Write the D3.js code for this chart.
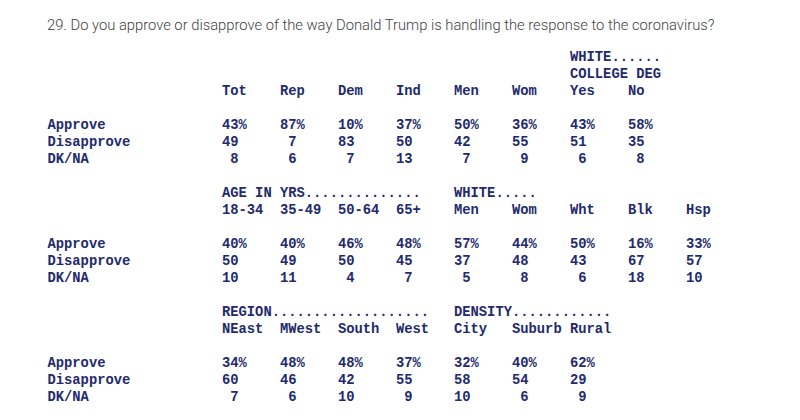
<!DOCTYPE html>
<html>
<head>
<meta charset="utf-8">
<script src="https://cdn.jsdelivr.net/npm/d3@7"></script>
<style>
  body { margin: 0; background: #fff; }
  .title { font-family: Roboto, "Liberation Sans", sans-serif; font-weight: 300; fill: #3f3f3f; }
  .mono { font-family: "Liberation Mono", "Courier New", monospace; font-weight: bold; fill: #232a6c; }
</style>
</head>
<body>
<svg id="chart"></svg>
<script>
// Question text
const question = "29. Do you approve or disapprove of the way Donald Trump is handling the response to the coronavirus?";
const responses = ["Approve", "Disapprove", "DK/NA"];

// Block 1: party, gender, white college degree
const cols1 = ["Tot", "Rep", "Dem", "Ind", "Men", "Wom", "Yes", "No"];
const approve1 = [43, 87, 10, 37, 50, 36, 43, 58];
const disapprove1 = [49, 7, 83, 50, 42, 55, 51, 35];
const dkna1 = [8, 6, 7, 13, 7, 9, 6, 8];

// Block 2: age, white gender, race
const cols2 = ["18-34", "35-49", "50-64", "65+", "Men", "Wom", "Wht", "Blk", "Hsp"];
const approve2 = [40, 40, 46, 48, 57, 44, 50, 16, 33];
const disapprove2 = [50, 49, 50, 45, 37, 48, 43, 67, 57];
const dkna2 = [10, 11, 4, 7, 5, 8, 6, 18, 10];

// Block 3: region, density
const cols3 = ["NEast", "MWest", "South", "West", "City", "Suburb", "Rural"];
const approve3 = [34, 48, 48, 37, 32, 40, 62];
const disapprove3 = [60, 46, 42, 55, 58, 54, 29];
const dkna3 = [7, 6, 10, 9, 10, 6, 9];

// Group headings: column index + text lines
const groups1 = [{col: 6, lines: ["WHITE......", "COLLEGE DEG"]}];
const groups2 = [{col: 0, lines: ["AGE IN YRS.............."]}, {col: 4, lines: ["WHITE....."]}];
const groups3 = [{col: 0, lines: ["REGION..................."]}, {col: 4, lines: ["DENSITY............"]}];

const blocks = [
  {cols: cols1, rows: [approve1, disapprove1, dkna1], groups: groups1, headLine: 2},
  {cols: cols2, rows: [approve2, disapprove2, dkna2], groups: groups2, headLine: 9},
  {cols: cols3, rows: [approve3, disapprove3, dkna3], groups: groups3, headLine: 16}
];

const width = 800, height = 420;
const svg = d3.select('#chart').attr('width', width).attr('height', height);

// column index -> x, line index -> y (monospace grid)
const xScale = d3.scaleLinear().domain([0, 8]).range([222, 686]);
const yScale = d3.scaleLinear().domain([0, 20]).range([57.7, 397.7]);
const labelX = 47.5;
const fontSize = 13.8;

// Title, fitted to its width in the reference
const title = svg.append('text')
    .attr('class', 'title')
    .attr('x', 47)
    .attr('y', 29.5)
    .style('font-size', '15px')
    .text(question);
const w = title.node().getComputedTextLength();
title.style('font-size', (15 * 668 / w) + 'px');

const fmt = (v, i) => String(v).padStart(2, ' ') + (i === 0 ? '%' : '');

blocks.forEach(b => {
  const g = svg.append('g');

  // group headings above the column labels
  b.groups.forEach(gr => {
    gr.lines.forEach((ln, k) => {
      g.append('text')
        .attr('class', 'mono')
        .attr('x', xScale(gr.col))
        .attr('y', yScale(b.headLine - gr.lines.length + k))
        .attr('dominant-baseline', 'central')
        .style('font-size', fontSize + 'px')
        .style('white-space', 'pre')
        .text(ln);
    });
  });

  // column labels
  g.selectAll('.col')
    .data(b.cols)
    .join('text')
      .attr('class', 'mono col')
      .attr('x', (d, i) => xScale(i))
      .attr('y', yScale(b.headLine))
      .attr('dominant-baseline', 'central')
      .style('font-size', fontSize + 'px')
      .text(d => d);

  // response rows
  b.rows.forEach((row, r) => {
    const y = yScale(b.headLine + 2 + r);
    g.append('text')
      .attr('class', 'mono')
      .attr('x', labelX)
      .attr('y', y)
      .attr('dominant-baseline', 'central')
      .style('font-size', fontSize + 'px')
      .text(responses[r]);

    g.selectAll('.v' + r)
      .data(row)
      .join('text')
        .attr('class', 'mono v' + r)
        .attr('x', (d, i) => xScale(i))
        .attr('y', y)
        .attr('dominant-baseline', 'central')
        .style('font-size', fontSize + 'px')
        .style('white-space', 'pre')
        .attr('xml:space', 'preserve')
        .text(d => fmt(d, r));
  });
});
</script>
</body>
</html>
